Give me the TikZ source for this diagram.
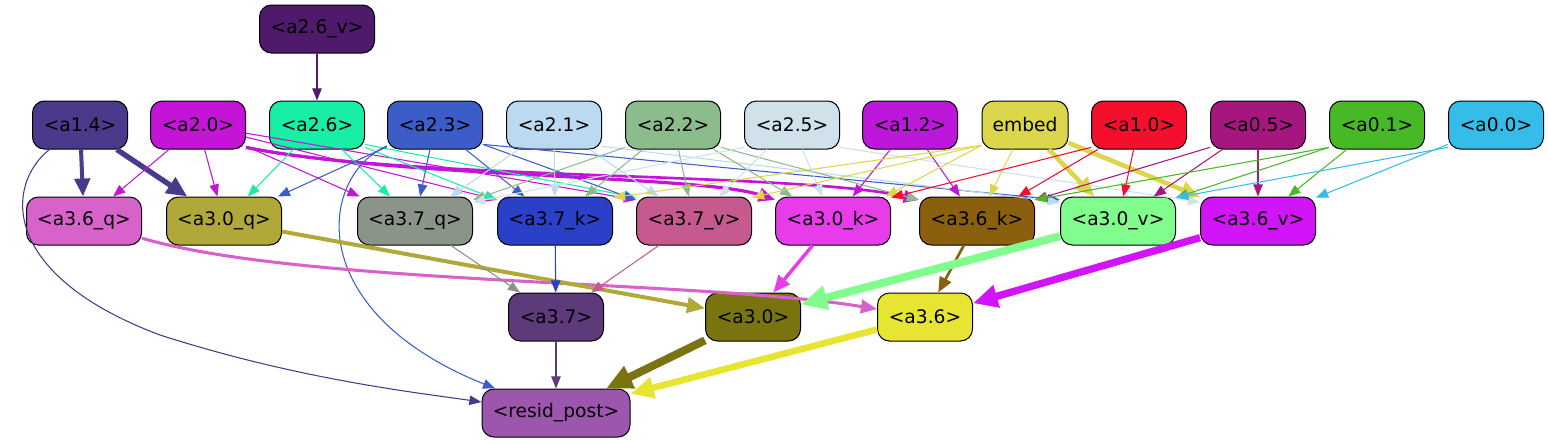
\documentclass[tikz,border=0pt]{standalone}
\usepackage{fontspec}
\setmainfont{DejaVu Sans}
\usetikzlibrary{arrows.meta}
\definecolor{c26v}{HTML}{4F1A6B}
\definecolor{c14}{HTML}{4B3A8C}
\definecolor{c20}{HTML}{C414D6}
\definecolor{c26}{HTML}{18EEA6}
\definecolor{c23}{HTML}{3C5CC8}
\definecolor{c21}{HTML}{BBDAF2}
\definecolor{c22}{HTML}{8CBC8C}
\definecolor{c25}{HTML}{D0E1EC}
\definecolor{c12}{HTML}{BE17DC}
\definecolor{cemb}{HTML}{DCD64C}
\definecolor{c10}{HTML}{F40F2C}
\definecolor{c05}{HTML}{A6167F}
\definecolor{c01}{HTML}{48B926}
\definecolor{c00}{HTML}{36BCE8}
\definecolor{c36q}{HTML}{D762CA}
\definecolor{c30q}{HTML}{B0A838}
\definecolor{c37q}{HTML}{8A9488}
\definecolor{c37k}{HTML}{2A40C8}
\definecolor{c37v}{HTML}{C65A8E}
\definecolor{c30k}{HTML}{E83CEA}
\definecolor{c36k}{HTML}{8A600F}
\definecolor{c30v}{HTML}{80FD8C}
\definecolor{c36v}{HTML}{D214F8}
\definecolor{c37}{HTML}{5D3A7A}
\definecolor{c30}{HTML}{7A7410}
\definecolor{c36}{HTML}{E8E432}
\definecolor{cres}{HTML}{9C56AE}
\tikzset{
  nd/.style={draw=black, line width=0.75pt, rounded corners=9pt, minimum height=36pt,
    inner sep=0pt, font=\fontsize{14}{16}\selectfont, text=black},
  nsm/.style={nd, minimum width=71.25pt},
  nlg/.style={nd, minimum width=86.25pt},
  e/.style={draw=#1, line width=0.8pt, -{Triangle[length=7.5pt 2, width=5.5pt 2, fill=#1]}},
}
\begin{document}
\begin{tikzpicture}[x=0.75pt,y=-0.75pt]
\useasboundingbox (0,0) rectangle (1548,443);
% nodes
\node[nlg, fill=c26v] (a26v) at (317,29) {<a2.6\_v>};
\node[nsm, fill=c14] (a14) at (80,125) {<a1.4>};
\node[nsm, fill=c20] (a20) at (198,125) {<a2.0>};
\node[nsm, fill=c26] (a26) at (317,125) {<a2.6>};
\node[nsm, fill=c23] (a23) at (435,125) {<a2.3>};
\node[nsm, fill=c21] (a21) at (554,125) {<a2.1>};
\node[nsm, fill=c22] (a22) at (673,125) {<a2.2>};
\node[nsm, fill=c25] (a25) at (792,125) {<a2.5>};
\node[nsm, fill=c12] (a12) at (910,125) {<a1.2>};
\node[nd, minimum width=64.5pt, fill=cemb] (emb) at (1025,125) {embed};
\node[nsm, fill=c10] (a10) at (1139,125) {<a1.0>};
\node[nsm, fill=c05] (a05) at (1258,125) {<a0.5>};
\node[nsm, fill=c01] (a01) at (1377,125) {<a0.1>};
\node[nsm, fill=c00] (a00) at (1496,125) {<a0.0>};
\node[nlg, fill=c36q] (a36q) at (84,221) {<a3.6\_q>};
\node[nlg, fill=c30q] (a30q) at (224,221) {<a3.0\_q>};
\node[nlg, fill=c37q] (a37q) at (415,221) {<a3.7\_q>};
\node[nlg, fill=c37k] (a37k) at (555,221) {<a3.7\_k>};
\node[nlg, fill=c37v] (a37v) at (694,221) {<a3.7\_v>};
\node[nlg, fill=c30k] (a30k) at (833,221) {<a3.0\_k>};
\node[nlg, fill=c36k] (a36k) at (977,221) {<a3.6\_k>};
\node[nlg, fill=c30v] (a30v) at (1118,221) {<a3.0\_v>};
\node[nlg, fill=c36v] (a36v) at (1258,221) {<a3.6\_v>};
\node[nsm, fill=c37] (a37) at (556,317) {<a3.7>};
\node[nsm, fill=c30] (a30) at (753,317) {<a3.0>};
\node[nsm, fill=c36] (a36) at (925,317) {<a3.6>};
\node[nd, minimum width=111pt, fill=cres] (res) at (556,413) {<resid\_post>};
% edges
\draw[e=c26v] (a26v) -- (a26);
\draw[e=c14, line width=3pt] (a14) -- (a36q);
\draw[e=c14, line width=4pt] (a14) -- (a30q);
\draw[e=c14] (a14) .. controls (5,185) and (0,275) .. (160,335) .. controls (300,380) and (420,393) .. (res);
\draw[e=c20] (a20) -- (a36q);
\draw[e=c20] (a20) -- (a30q);
\draw[e=c20] (a20) -- (a37q);
\draw[e=c20] (a20) -- (a37k.160);
\draw[e=c20] (a20) -- (a37v.160);
\draw[e=c20, line width=2.4pt] (a20.-25) .. controls (400,178) and (700,175) .. (a30k.160);
\draw[e=c20, line width=2pt] (a20.-25) .. controls (400,180) and (800,172) .. (a36k.160);
\draw[e=c26] (a26) -- (a30q);
\draw[e=c26] (a26) -- (a37q);
\draw[e=c26] (a26.-25) -- (a37k.160);
\draw[e=c26] (a26.-22) -- (a37v.158);
\draw[e=c23] (a23) -- (a30q);
\draw[e=c23] (a23) -- (a37q);
\draw[e=c23] (a23) -- (a37k);
\draw[e=c23] (a23.-22) -- (a37v.160);
\draw[e=c23] (a23.-22) -- (a30v.160);
\draw[e=c23] (a23) .. controls (320,175) and (300,310) .. (res);
\draw[e=c21] (a21) -- (a37q);
\draw[e=c21] (a21) -- (a37k);
\draw[e=c21] (a21) -- (a37v);
\draw[e=c21] (a21.-24) -- (a30v.162);
\draw[e=c22] (a22.205) -- (a37q.20);
\draw[e=c22] (a22) -- (a37k);
\draw[e=c22] (a22) -- (a37v);
\draw[e=c22] (a22) -- (a30k);
\draw[e=c22] (a22.-25) -- (a36k.160);
\draw[e=c25] (a25.205) -- (a37q.18);
\draw[e=c25] (a25) -- (a37v);
\draw[e=c25] (a25) -- (a30k);
\draw[e=c25] (a25.-25) -- (a36v.162);
\draw[e=c12] (a12) -- (a30k);
\draw[e=c12] (a12) -- (a36k);
\draw[e=cemb] (emb.205) -- (a37k.22);
\draw[e=cemb] (emb.205) -- (a37v.22);
\draw[e=cemb] (emb.205) -- (a30k.25);
\draw[e=cemb] (emb) -- (a36k);
\draw[e=cemb, line width=3.5pt] (emb) -- (a30v);
\draw[e=cemb, line width=3.5pt] (emb) -- (a36v);
\draw[e=c10] (a10.205) -- (a30k.22);
\draw[e=c10] (a10) -- (a36k);
\draw[e=c10] (a10) -- (a30v);
\draw[e=c05] (a05.205) -- (a36k.20);
\draw[e=c05] (a05) -- (a30v);
\draw[e=c05] (a05) -- (a36v);
\draw[e=c01] (a01.205) -- (a36k.20);
\draw[e=c01] (a01.205) -- (a30v.22);
\draw[e=c01] (a01) -- (a36v);
\draw[e=c00] (a00.205) -- (a30v.22);
\draw[e=c00] (a00) -- (a36v);
\draw[e=c36q, line width=2.3pt] (a36q) .. controls (300,285) and (700,280) .. (a36);
\draw[e=c30q, line width=3pt] (a30q) -- (a30);
\draw[e=c37q] (a37q) -- (a37);
\draw[e=c37k] (a37k) -- (a37);
\draw[e=c37v] (a37v) -- (a37);
\draw[e=c30k, line width=2.6pt] (a30k) -- (a30);
\draw[e=c36k, line width=2pt] (a36k) -- (a36);
\draw[e=c30v, line width=6pt] (a30v) -- (a30);
\draw[e=c36v, line width=5.5pt] (a36v) -- (a36);
\draw[e=c37] (a37) -- (res);
\draw[e=c30, line width=6pt] (a30) -- (res);
\draw[e=c36, line width=5pt] (a36) -- (res);
\end{tikzpicture}
\end{document}
